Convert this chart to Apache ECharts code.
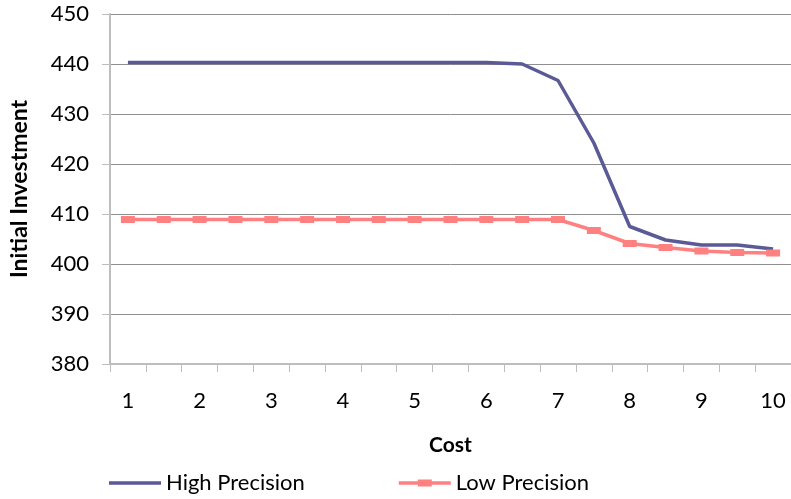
<!DOCTYPE html>
<html>
<head>
<meta charset="utf-8">
<script src="https://cdn.jsdelivr.net/npm/echarts@6/dist/echarts.min.js"></script>
<style>html,body{margin:0;padding:0;background:#fff}#c{width:791px;height:499px}</style>
</head>
<body>
<div id="c"></div>
<script>
const costs = ['1','1.5','2','2.5','3','3.5','4','4.5','5','5.5','6','6.5','7','7.5','8','8.5','9','9.5','10'];
const highPrecision = [440.3,440.3,440.3,440.3,440.3,440.3,440.3,440.3,440.3,440.3,440.3,440.0,436.7,424.2,407.5,404.8,403.8,403.8,403.0];
const lowPrecision = [408.9,408.9,408.9,408.9,408.9,408.9,408.9,408.9,408.9,408.9,408.9,408.9,408.9,406.7,404.1,403.3,402.6,402.3,402.2];
const yMin = 380, yMax = 450, yStep = 10;

const FONT = 'Lato';
const chart = echarts.init(document.getElementById('c'), null, {renderer:'canvas'});
chart.setOption({
  animation: false,
  backgroundColor: '#fff',
  textStyle: {fontFamily: FONT, color: '#000'},
  grid: {left: 109, top: 14, right: -8, bottom: 135, containLabel: false},
  legend: {
    top: 467, left: 104, itemGap: 94, itemWidth: 52, itemHeight: 12,
    textStyle: {fontFamily: FONT, fontSize: 22, color: '#000'},
    data: [
      {name: 'High Precision', icon: 'path://M0,4.2H52V7.8H0Z M0,0H0.01V12H0Z'},
      {name: 'Low Precision', icon: 'path://M0,4.2H52V7.8H0Z M19,2.5H33V9.5H19Z M0,0H0.01V12H0Z'}
    ]
  },
  xAxis: {
    type: 'category', data: costs, boundaryGap: true,
    name: 'Cost', nameLocation: 'middle', nameGap: 71,
    nameTextStyle: {fontFamily: FONT, fontSize: 21, fontWeight: 'bold', color: '#000'},
    axisLine: {lineStyle: {color: '#BDBDBD', width: 2}},
    axisTick: {show: true, interval: 0, length: 8, lineStyle: {color: '#BDBDBD', width: 1}},
    axisLabel: {interval: 1, margin: 26, fontFamily: FONT, fontSize: 22, color: '#000'},
    splitLine: {show: false}
  },
  yAxis: {
    type: 'value', min: yMin, max: yMax, interval: yStep,
    name: 'Initial Investment', nameLocation: 'middle', nameGap: 79,
    nameTextStyle: {fontFamily: FONT, fontSize: 23, fontWeight: 'bold', color: '#000'},
    axisLine: {show: true, lineStyle: {color: '#BDBDBD', width: 2}},
    axisTick: {show: true, length: 8, lineStyle: {color: '#BDBDBD', width: 1}},
    axisLabel: {margin: 21, fontFamily: FONT, fontSize: 22, color: '#000'},
    splitLine: {show: true, lineStyle: {color: '#8F8F8F', width: 1}}
  },
  series: [
    {
      name: 'High Precision', type: 'line', data: highPrecision,
      showSymbol: false, symbol: 'none',
      lineStyle: {color: '#5A5A96', width: 3.5},
      itemStyle: {color: '#5A5A96'}
    },
    {
      name: 'Low Precision', type: 'line', data: lowPrecision,
      symbol: 'rect', symbolSize: [14, 7], showSymbol: true,
      lineStyle: {color: '#FF8080', width: 3.5},
      itemStyle: {color: '#FF8080'}
    }
  ]
});
</script>
</body>
</html>
